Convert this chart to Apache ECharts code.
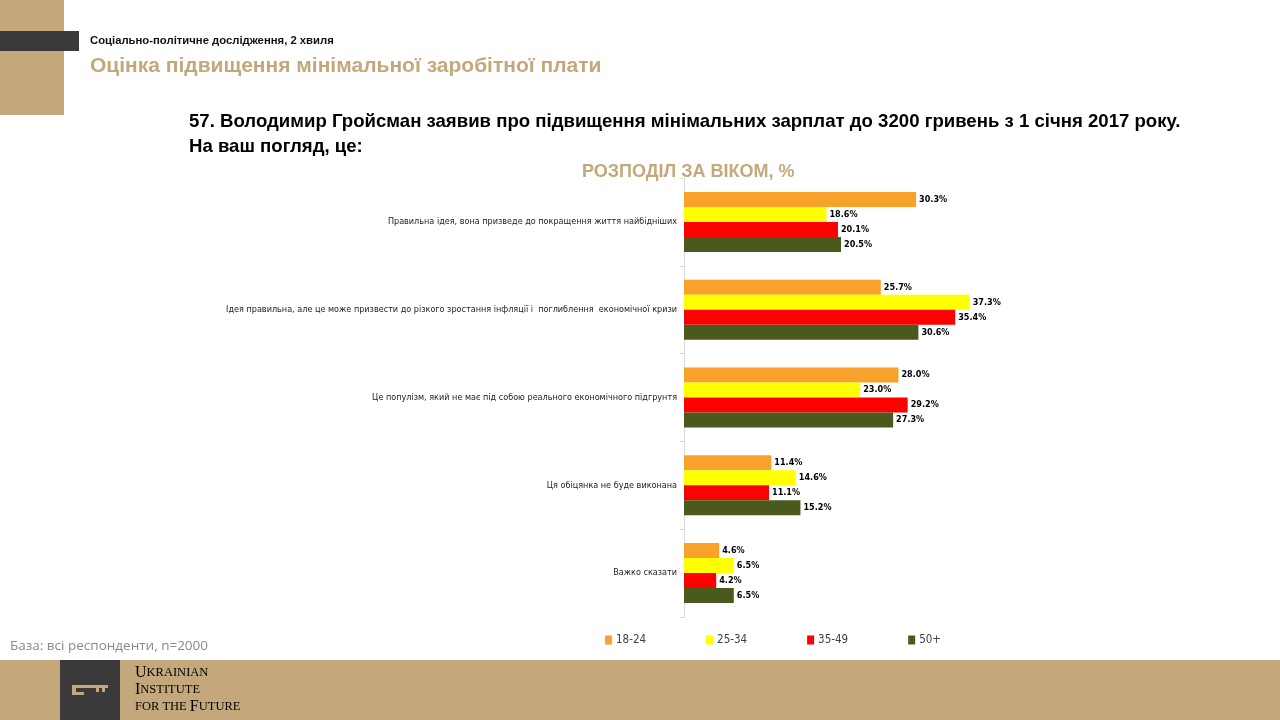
<!DOCTYPE html>
<html>
<head>
<meta charset="utf-8">
<script src="https://cdn.jsdelivr.net/npm/echarts@6/dist/echarts.min.js"></script>
<style>
  html, body { margin: 0; padding: 0; background: #fff; }
  #main { width: 1280px; height: 720px; }
</style>
</head>
<body>
<div id="main"></div>
<script>
  // 응답 항목
  var categories = [
      'Правильна ідея, вона призведе до покращення життя найбідніших',
      'Ідея правильна, але це може призвести до різкого зростання інфляції і  поглиблення  економічної кризи',
      'Це популізм, який не має під собою реального економічного підгрунтя',
      'Ця обіцянка не буде виконана',
      'Важко сказати'
  ];
  var ageGroups = ['18-24', '25-34', '35-49', '50+'];
  var age18_24 = [30.3, 25.7, 28.0, 11.4, 4.6];
  var age25_34 = [18.6, 37.3, 23.0, 14.6, 6.5];
  var age35_49 = [20.1, 35.4, 29.2, 11.1, 4.2];
  var age50plus = [20.5, 30.6, 27.3, 15.2, 6.5];
  var colors = ['#F8A12B', '#FFFF00', '#FF0000', '#4A5A1C'];

  var narrow = "'DejaVu Sans Condensed', sans-serif";
  var tan = '#C4A87C';

  function makeSeries(name, data, color) {
      return {
          name: name,
          type: 'bar',
          data: data,
          barWidth: 15,
          barGap: '0%',
          itemStyle: { color: color },
          label: {
              show: true,
              position: 'right',
              distance: 3,
              color: '#000',
              fontFamily: narrow,
              fontWeight: 'bold',
              fontSize: 9,
              formatter: function (p) { return p.value.toFixed(1) + '%'; }
          }
      };
  }

  // 로고 글자 (스몰캡)
  function smallCaps(first, rest) {
      return '{a|' + first + '}{b|' + rest + '}';
  }
  var capsRich = {
      a: { fontFamily: "'Liberation Serif', serif", fontSize: 16, color: '#3A2E1E' },
      b: { fontFamily: "'Liberation Serif', serif", fontSize: 12.5, color: '#3A2E1E' }
  };

  var myChart = echarts.init(document.getElementById('main'));
  var option = {
      animation: false,
      textStyle: { fontFamily: narrow },
      graphic: [
          // 좌측 상단 장식
          { type: 'rect', left: 0, top: 0, shape: { width: 64, height: 115 }, style: { fill: tan } },
          { type: 'rect', left: 0, top: 31, shape: { width: 79, height: 20 }, style: { fill: '#3A3A3A' } },
          { type: 'text', left: 90, top: 35, style: { text: 'Соціально-політичне дослідження, 2 хвиля', font: "bold 11.3px sans-serif", fill: '#111' } },
          { type: 'text', left: 90, top: 56, style: { text: 'Оцінка підвищення мінімальної заробітної плати', font: "bold 21px sans-serif", fill: tan } },
          { type: 'text', left: 189, top: 112, style: { text: '57. Володимир Гройсман заявив про підвищення мінімальних зарплат до 3200 гривень з 1 січня 2017 року.', font: "bold 18.6px sans-serif", fill: '#000' } },
          { type: 'text', left: 189, top: 137, style: { text: 'На ваш погляд, це:', font: "bold 18.6px sans-serif", fill: '#000' } },
          { type: 'text', left: 582, top: 163, style: { text: 'РОЗПОДІЛ ЗА ВІКОМ, %', font: "bold 18px sans-serif", fill: tan } },
          { type: 'text', left: 10, top: 639, style: { text: 'База: всі респонденти, n=2000', font: "13.5px 'Open Sans', sans-serif", fill: '#8A8A8A' } },
          // 하단 띠
          { type: 'rect', left: 0, top: 660, shape: { width: 1280, height: 60 }, style: { fill: tan } },
          { type: 'rect', left: 60, top: 660, shape: { width: 60, height: 60 }, style: { fill: '#3A3A3A' } },
          { type: 'rect', left: 72, top: 685, shape: { width: 4, height: 10 }, style: { fill: tan } },
          { type: 'rect', left: 72, top: 685, shape: { width: 36, height: 3 }, style: { fill: tan } },
          { type: 'rect', left: 96, top: 685, shape: { width: 3, height: 7 }, style: { fill: tan } },
          { type: 'rect', left: 102, top: 685, shape: { width: 3, height: 7 }, style: { fill: tan } },
          { type: 'rect', left: 72, top: 692, shape: { width: 12, height: 3 }, style: { fill: tan } },
          { type: 'text', left: 135, top: 665, style: { text: smallCaps('U', 'KRAINIAN'), rich: capsRich } },
          { type: 'text', left: 135, top: 682, style: { text: smallCaps('I', 'NSTITUTE'), rich: capsRich } },
          { type: 'text', left: 135, top: 699, style: { text: '{b|FOR THE }{a|F}{b|UTURE}', rich: capsRich } }
      ],
      legend: {
          data: ageGroups,
          left: 600,
          top: 629,
          itemWidth: 7,
          itemHeight: 9,
          itemGap: 60,
          icon: 'rect',
          textStyle: { fontFamily: narrow, fontSize: 11.5, color: '#404040', padding: [0, 0, 0, -1] }
      },
      grid: {
          left: 684,
          top: 178,
          width: 383,
          height: 439,
          containLabel: false
      },
      xAxis: {
          type: 'value',
          min: 0,
          max: 50,
          show: false
      },
      yAxis: {
          type: 'category',
          data: categories,
          inverse: true,
          axisLine: { lineStyle: { color: '#D9D9D9' } },
          axisTick: { show: true, length: 4, lineStyle: { color: '#D9D9D9' } },
          axisLabel: { fontFamily: narrow, fontSize: 9, color: '#222', margin: 7 }
      },
      series: [
          makeSeries(ageGroups[0], age18_24, colors[0]),
          makeSeries(ageGroups[1], age25_34, colors[1]),
          makeSeries(ageGroups[2], age35_49, colors[2]),
          makeSeries(ageGroups[3], age50plus, colors[3])
      ]
  };
  myChart.setOption(option);
  window.addEventListener('resize', myChart.resize);
</script>
</body>
</html>
